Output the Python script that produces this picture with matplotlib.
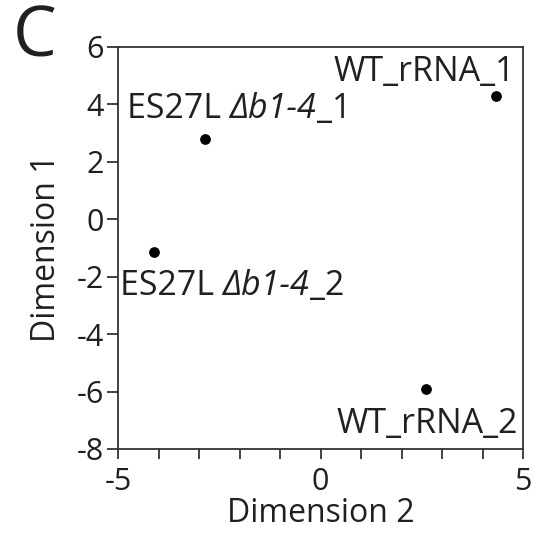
import matplotlib
matplotlib.use("Agg")
import matplotlib.pyplot as plt
import numpy as np

plt.rcParams["font.family"] = ["Open Sans", "DejaVu Sans"]
plt.rcParams["axes.unicode_minus"] = False

# MDS coordinates of the samples
nomes = ["WT_rRNA_1", "ES27L_1", "ES27L_2", "WT_rRNA_2"]
dim2 = [4.33, -2.85, -4.11, 2.6]
dim1 = [4.29, 2.8, -1.14, -5.92]

yticks = [-8, -6, -4, -2, 0, 2, 4, 6]
xticks_major = [-5, 0, 5]

W = 535
cor = "#231f20"


def fx(px):
    return px / W


def fy(py):
    return 1 - py / W


fig = plt.figure(figsize=(5.35, 5.35), dpi=100)
ax = fig.add_axes([fx(118), fy(449), 405 / W, 402 / W])

ax.scatter(dim2, dim1, s=45, color="black", zorder=3)

ax.set_xlim(-5, 5)
ax.set_ylim(-8, 6)
ax.set_yticks(yticks)
ax.set_yticklabels([str(v) for v in yticks])
ax.set_xticks(xticks_major)
ax.set_xticklabels([str(v) for v in xticks_major])
ax.set_xticks(np.arange(-5, 6, 1), minor=True)
ax.tick_params(axis="both", which="both", direction="out", width=1.3, color="#333333",
               labelsize=22, labelcolor=cor)
ax.tick_params(axis="y", length=8, pad=2)
ax.tick_params(axis="x", which="both", length=7, pad=6)

for s in ax.spines.values():
    s.set_linewidth(1.3)
    s.set_color("#333333")

fs = 24.5
fig.text(fx(515), fy(81), "WT_rRNA_1", fontsize=fs, color=cor, ha="right", va="baseline")
fig.text(fx(518), fy(433), "WT_rRNA_2", fontsize=fs, color=cor, ha="right", va="baseline")


# labels with an italic part
def rotulo(x, y, sufixo):
    partes = [("ES27L ", "normal"), ("Δb1-4", "italic"), (sufixo, "normal")]
    xpos = fx(x)
    for txt, estilo in partes:
        t = fig.text(xpos, fy(y), txt, fontsize=fs, color=cor, va="baseline", style=estilo)
        fig.canvas.draw()
        xpos = t.get_window_extent().x1 / W


rotulo(127, 118, "_1")
rotulo(120, 295, "_2")

ax.set_xlabel("Dimension 2", fontsize=23, color=cor, labelpad=0)
ax.set_ylabel("Dimension 1", fontsize=23, color=cor, labelpad=10)

fig.text(fx(13), fy(57), "C", fontsize=50, color=cor, va="baseline", ha="left")

fig.savefig("out.png", dpi=100)
